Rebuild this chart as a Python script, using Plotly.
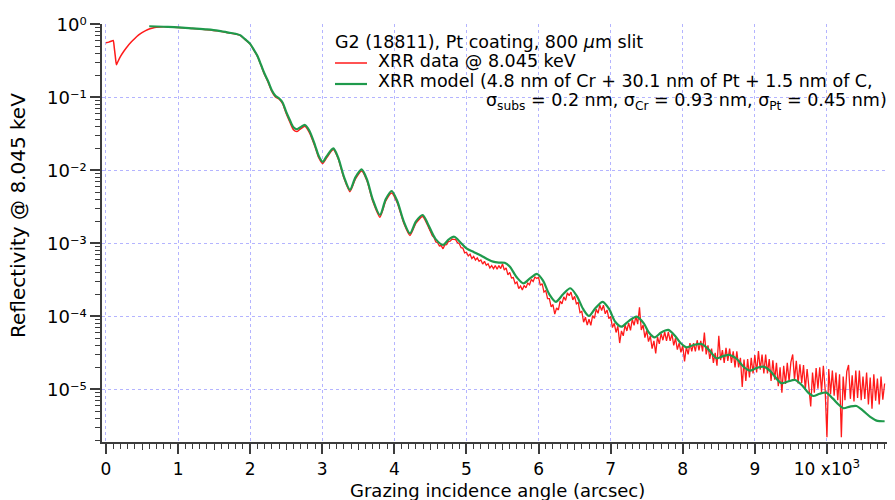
import plotly.graph_objects as go

# ---------------- data ----------------
# XRR model (green), grazing angle in arcsec
model_x = [600, 800, 1000, 1200, 1400, 1550, 1700, 1800, 1860, 1950, 2000, 2050, 2100,
           2150, 2200, 2250, 2300, 2350, 2400, 2450, 2500, 2550, 2600, 2650, 2700, 2760,
           2820, 2900, 2950, 3005, 3060, 3153, 3220, 3300, 3384, 3460, 3546, 3620, 3700,
           3800, 3880, 3962, 4040, 4130, 4216, 4300, 4392, 4470, 4570, 4678, 4750, 4830,
           4920, 5000, 5100, 5200, 5300, 5370, 5450, 5530, 5600, 5700, 5790, 5880, 5980,
           6060, 6150, 6240, 6340, 6440, 6530, 6620, 6700, 6790, 6890, 6980, 7060, 7150,
           7250, 7360, 7460, 7530, 7610, 7700, 7800, 7900, 7970, 8050, 8150, 8260, 8360,
           8470, 8560, 8650, 8750, 8840, 8930, 9020, 9120, 9220, 9300, 9370, 9460, 9560,
           9660, 9740, 9810, 9900, 9990, 10080, 10160, 10230, 10320, 10410, 10500, 10600,
           10700, 10800]
model_y = [0.94, 0.925, 0.91, 0.88, 0.85, 0.82, 0.77, 0.74, 0.71, 0.60, 0.54, 0.45, 0.37,
           0.28, 0.21, 0.165, 0.125, 0.105, 0.097, 0.085, 0.063, 0.049, 0.039, 0.0365, 0.039,
           0.0418, 0.035, 0.022, 0.0158, 0.0131, 0.0155, 0.020, 0.015, 0.0082, 0.0054, 0.0080,
           0.0103, 0.0075, 0.0040, 0.00244, 0.0040, 0.0052, 0.0038, 0.0020, 0.00137, 0.0020,
           0.00244, 0.0018, 0.00115, 9.5e-4, 1.12e-3, 1.23e-3, 1.02e-3, 8.5e-4, 7.6e-4, 6.8e-4,
           6.0e-4, 5.6e-4, 5.45e-4, 5.4e-4, 4.8e-4, 3.4e-4, 2.83e-4, 3.3e-4, 3.8e-4, 3.1e-4,
           2.0e-4, 1.58e-4, 2.0e-4, 2.42e-4, 1.9e-4, 1.25e-4, 1.01e-4, 1.3e-4, 1.58e-4, 1.25e-4,
           8.5e-5, 7.2e-5, 8.6e-5, 9.9e-5, 8.0e-5, 6.0e-5, 5.15e-5, 6.0e-5, 6.5e-5, 5.3e-5,
           4.3e-5, 3.76e-5, 4.05e-5, 4.17e-5, 3.5e-5, 2.66e-5, 2.85e-5, 2.95e-5, 2.6e-5,
           2.05e-5, 1.8e-5, 1.95e-5, 2.04e-5, 1.75e-5, 1.4e-5, 1.21e-5, 1.28e-5, 1.34e-5,
           1.12e-5, 9.0e-6, 8.1e-6, 8.7e-6, 9.0e-6, 7.5e-6, 6.2e-6, 5.5e-6, 5.8e-6, 5.9e-6,
           5.1e-6, 4.2e-6, 3.7e-6, 3.65e-6]

# XRR data (red), low-angle smooth part
data_x_low = [0, 40, 80, 100, 115, 130, 145, 160, 200, 250, 300, 350, 400, 450, 500, 550,
              600, 650, 700, 800, 1000, 1200, 1400, 1550, 1700, 1800, 1860, 1950, 2000, 2050,
              2100, 2150, 2200, 2250, 2300, 2350, 2400, 2450, 2500, 2550, 2600, 2650, 2700,
              2760, 2820, 2900, 2950, 3005, 3060, 3153, 3220, 3300, 3384, 3460, 3546, 3620,
              3700, 3800, 3880, 3962, 4040, 4130, 4216, 4300, 4392, 4470]
data_y_low = [0.56, 0.57, 0.59, 0.60, 0.48, 0.36, 0.28, 0.30, 0.36, 0.43, 0.50, 0.57, 0.64,
              0.71, 0.77, 0.82, 0.86, 0.89, 0.91, 0.925, 0.905, 0.875, 0.845, 0.815, 0.765,
              0.735, 0.705, 0.595, 0.535, 0.445, 0.365, 0.275, 0.205, 0.16, 0.12, 0.101, 0.095,
              0.082, 0.060, 0.046, 0.036, 0.034, 0.037, 0.040, 0.033, 0.021, 0.015, 0.0124,
              0.0148, 0.0192, 0.0145, 0.0079, 0.0051, 0.0076, 0.0098, 0.0072, 0.0038, 0.00228,
              0.0038, 0.0049, 0.0036, 0.0019, 0.00128, 0.0019, 0.00232, 0.0017]

# XRR data (red), noisy part: scan from 4500 arcsec in 25 arcsec steps
data_x_start = 4500
data_x_step = 25
data_y_high = [
    1.49e-3, 1.27e-3, 1.20e-3, 1.04e-3, 1.02e-3, 9.2e-4, 9.3e-4, 8.4e-4,
    9.5e-4, 9.6e-4, 1.06e-3, 1.07e-3, 1.14e-3, 1.13e-3, 1.12e-3, 1.02e-3,
    9.9e-4, 8.7e-4, 8.6e-4, 7.4e-4, 7.55e-4, 6.7e-4, 7.1e-4, 6.2e-4,
    6.6e-4, 5.9e-4, 6.3e-4, 5.65e-4, 5.9e-4, 5.2e-4, 5.65e-4, 5.0e-4,
    5.25e-4, 4.6e-4, 4.95e-4, 4.5e-4, 4.95e-4, 4.4e-4, 4.95e-4, 4.5e-4,
    5.2e-4, 4.3e-4, 4.6e-4, 3.7e-4, 4.0e-4, 3.35e-4, 3.4e-4, 2.8e-4,
    2.95e-4, 2.4e-4, 2.6e-4, 2.3e-4, 2.65e-4, 2.45e-4, 2.85e-4, 2.7e-4,
    3.2e-4, 3.0e-4, 3.45e-4, 3.3e-4, 3.4e-4, 2.65e-4, 2.8e-4, 2.15e-4,
    2.25e-4, 1.75e-4, 1.75e-4, 1.35e-4, 1.45e-4, 1.07e-4, 1.3e-4, 1.22e-4,
    1.62e-4, 1.48e-4, 1.85e-4, 1.65e-4, 2.1e-4, 1.92e-4, 2.15e-4, 1.68e-4,
    1.88e-4, 1.48e-4, 1.55e-4, 1.12e-4, 1.17e-4, 8.3e-5, 9.7e-5, 7.6e-5,
    9.1e-5, 7.5e-5, 1.02e-4, 9.4e-5, 1.25e-4, 1.1e-4, 1.42e-4, 1.2e-4,
    1.42e-4, 1.08e-4, 1.22e-4, 9.3e-5, 1.0e-4, 7.0e-5, 8.0e-5, 6.0e-5,
    7.3e-5, 4.3e-5, 6.3e-5, 5.4e-5, 7.6e-5, 6.3e-5, 8.1e-5, 6.4e-5,
    9.1e-5, 7.5e-5, 1.0e-4, 7.8e-5, 1.33e-4, 6.5e-5, 7.6e-5, 5.1e-5,
    6.4e-5, 4.5e-5, 5.4e-5, 3.6e-5, 4.6e-5, 3.1e-5, 5.2e-5, 4.2e-5,
    5.8e-5, 4.7e-5, 6.1e-5, 4.6e-5, 6.1e-5, 4.6e-5, 5.7e-5, 4.0e-5,
    5.0e-5, 3.5e-5, 4.3e-5, 3.2e-5, 4.0e-5, 2.4e-5, 3.8e-5, 3.0e-5,
    4.3e-5, 3.3e-5, 4.3e-5, 3.3e-5, 4.7e-5, 3.4e-5, 4.6e-5, 3.3e-5,
    6.0e-5, 3.0e-5, 4.0e-5, 2.6e-5, 3.6e-5, 2.3e-5, 3.15e-5, 2.1e-5,
    5.4e-5, 2.5e-5, 3.45e-5, 2.3e-5, 3.7e-5, 2.45e-5, 3.6e-5, 2.3e-5,
    3.3e-5, 2.0e-5, 3.3e-5, 2.0e-5, 2.7e-5, 1.08e-5, 2.55e-5, 1.3e-5,
    2.6e-5, 1.45e-5, 2.7e-5, 1.65e-5, 2.95e-5, 1.7e-5, 3.35e-5, 1.85e-5,
    3.0e-5, 1.65e-5, 3.0e-5, 1.65e-5, 2.6e-5, 1.3e-5, 2.5e-5, 1.35e-5,
    2.3e-5, 1.1e-5, 2.0e-5, 9.0e-6, 2.1e-5, 1.18e-5, 2.3e-5, 1.28e-5,
    2.35e-5, 3.0e-5, 1.35e-5, 2.45e-5, 1.2e-5, 2.2e-5, 1.22e-5, 2.15e-5,
    1.0e-5, 1.9e-5, 1.0e-5, 5.8e-6, 1.7e-5, 9.0e-6, 1.95e-5, 1.02e-5,
    2.0e-5, 9.2e-6, 2.1e-5, 1.0e-5, 2.2e-6, 1.9e-5, 8.6e-6, 1.8e-5,
    8.2e-6, 1.7e-5, 7.1e-6, 1.6e-5, 2.2e-6, 1.5e-5, 7.1e-6, 1.75e-5,
    2.15e-5, 7.4e-6, 1.55e-5, 6.8e-6, 1.8e-5, 7.6e-6, 1.8e-5, 7.1e-6,
    1.5e-5, 7.4e-6, 1.7e-5, 6.2e-6, 1.45e-5, 5.4e-6, 1.6e-5, 7.0e-6,
    1.4e-5, 6.2e-6, 1.5e-5, 7.2e-6, 1.2e-5]
data_x_high = [data_x_start + data_x_step * i for i in range(len(data_y_high))]

x_tick_vals = [0, 1000, 2000, 3000, 4000, 5000, 6000, 7000, 8000, 9000, 10000]
x_tick_text = ["0", "1", "2", "3", "4", "5", "6", "7", "8", "9", "10 x10<sup>3</sup>"]
y_tick_vals = [1, 1e-1, 1e-2, 1e-3, 1e-4, 1e-5]
y_tick_text = ["10⁰", "10⁻¹", "10⁻²", "10⁻³", "10⁻⁴", "10⁻⁵"]

legend_title = "G2 (18811), Pt coating, 800 <i>μ</i>m slit"
legend_data = "XRR data @ 8.045 keV"
legend_model_1 = "XRR model (4.8 nm of Cr + 30.1 nm of Pt + 1.5 nm of C,"
legend_model_2 = ("σ<sub>subs</sub> = 0.2 nm, σ<sub>Cr</sub> = 0.93 nm, "
                  "σ<sub>Pt</sub> = 0.45 nm)")
x_title = "Grazing incidence angle (arcsec)"
y_title = "Reflectivity @ 8.045 keV"

# ---------------- styling ----------------
W, H = 895, 500
ML, MR, MT, MB = 102, 8, 24, 58
PW, PH = W - ML - MR, H - MT - MB
RED = "#ff1a1a"
GREEN = "#1f9a4c"
AX = "#3c3c3c"
GRID = "rgb(180,180,255)"
FONT = "DejaVu Sans"
TXT = 17.5


def px(xp):
    return (xp - ML) / PW


def py(yp):
    return (H - MB - yp) / PH


fig = go.Figure()
fig.add_trace(go.Scatter(x=data_x_low + data_x_high[:1], y=data_y_low + data_y_high[:1],
                         mode="lines", line=dict(color=RED, width=1.5, shape="spline",
                                                 smoothing=0.6),
                         showlegend=False, hoverinfo="skip"))
fig.add_trace(go.Scatter(x=data_x_low[-1:] + data_x_high, y=data_y_low[-1:] + data_y_high,
                         mode="lines", line=dict(color=RED, width=1.3),
                         showlegend=False, hoverinfo="skip"))
fig.add_trace(go.Scatter(x=model_x, y=model_y, mode="lines",
                         line=dict(color=GREEN, width=2.2, shape="spline", smoothing=0.8),
                         showlegend=False, hoverinfo="skip"))
# empty trace so the medium-tick overlay axis is drawn
fig.add_trace(go.Scatter(x=[None], y=[None], xaxis="x2", mode="lines",
                         showlegend=False, hoverinfo="skip"))

x_minor = [v for v in range(100, 10900, 100) if v % 500 != 0]
x_mid = [v for v in range(500, 10900, 1000)]
y_minor = [k * 10.0 ** e for e in range(-6, 0) for k in range(2, 10)]

fig.update_layout(
    width=W, height=H,
    margin=dict(l=ML, r=MR, t=MT, b=MB, autoexpand=False),
    paper_bgcolor="white", plot_bgcolor="white",
    showlegend=False,
    font=dict(family=FONT, size=17, color="black"),
    xaxis=dict(range=[-55, 10833], tickmode="array", tickvals=x_tick_vals,
               ticktext=x_tick_text, showgrid=True, gridcolor=GRID, griddash="dot",
               gridwidth=1, zeroline=False, showline=True, linecolor=AX, linewidth=1.5,
               ticks="outside", ticklen=10, tickwidth=1.5, tickcolor=AX, automargin=False,
               ticklabelstandoff=1,
               tickfont=dict(family=FONT, size=17, color="black"),
               minor=dict(tickmode="array", tickvals=x_minor, ticks="outside", ticklen=5,
                          tickwidth=1, tickcolor=AX, showgrid=False)),
    xaxis2=dict(overlaying="x", matches="x", anchor="y", side="bottom",
                showgrid=False, zeroline=False, showticklabels=False, showline=False,
                tickmode="array", tickvals=x_mid, ticks="outside", ticklen=7,
                tickwidth=1.2, tickcolor=AX, automargin=False),
    yaxis=dict(type="log", range=[-5.722, 0.004], tickmode="array", tickvals=y_tick_vals,
               ticktext=y_tick_text, showticklabels=True, showgrid=True, gridcolor=GRID,
               griddash="dot", gridwidth=1, zeroline=False, showline=True, linecolor=AX,
               linewidth=1.5, ticks="outside", ticklen=10, tickwidth=1.5, tickcolor=AX,
               automargin=False, tickfont=dict(family=FONT, size=18, color="black"),
               minor=dict(tickmode="array", tickvals=y_minor, ticks="outside", ticklen=5,
                          tickwidth=1, tickcolor=AX, showgrid=False)),
)

ann_font = dict(family=FONT, size=TXT, color="black")
annotations = [
    dict(text=legend_title, x=px(333), y=py(42), xanchor="left", yanchor="middle"),
    dict(text=legend_data, x=px(376), y=py(61), xanchor="left", yanchor="middle"),
    dict(text=legend_model_1, x=px(376), y=py(81), xanchor="left", yanchor="middle"),
    dict(text=legend_model_2, x=px(889), y=py(102), xanchor="right", yanchor="middle"),
    dict(text=x_title, x=0.504, y=py(490), xanchor="center", yanchor="middle",
         font=dict(family=FONT, size=18, color="black")),
    dict(text=y_title, x=px(18), y=py(216), xanchor="center", yanchor="middle",
         textangle=-90, font=dict(family=FONT, size=20, color="black")),
]
for a in annotations:
    a.update(xref="paper", yref="paper", showarrow=False)
    a.setdefault("font", ann_font)
fig.update_layout(annotations=annotations)

fig.add_shape(type="line", xref="paper", yref="paper", x0=px(335), x1=px(367),
              y0=py(63), y1=py(63), line=dict(color=RED, width=1.5))
fig.add_shape(type="line", xref="paper", yref="paper", x0=px(335), x1=px(367),
              y0=py(84), y1=py(84), line=dict(color=GREEN, width=2.2))

fig.write_html("out.html", config={"displayModeBar": False},
               post_script="document.body.style.margin='0';")
